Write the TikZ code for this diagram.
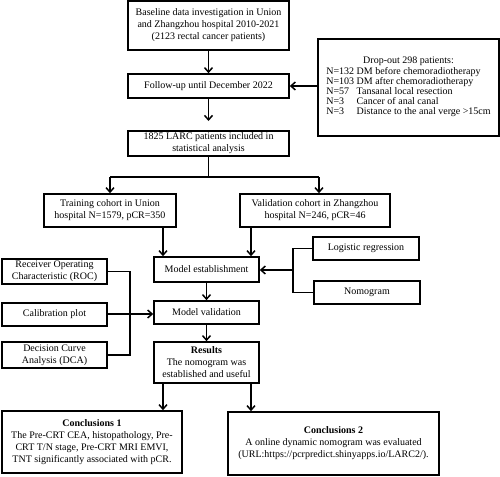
\documentclass[tikz,border=0pt]{standalone}
\usepackage{fontspec}
\setmainfont{Liberation Serif}
\usetikzlibrary{arrows.meta}
\begin{document}
\begin{tikzpicture}[x=1pt,y=-1pt,
  box/.style={draw,line width=1.6pt,inner sep=1pt,align=center,font=\fontsize{10}{12}\selectfont},
  conn/.style={line width=1.5pt},
  arr/.style={conn,-{Straight Barb[length=4.5pt,width=8pt,line width=1.5pt]}}]
\useasboundingbox (0,0) rectangle (500,476);
\node[box,minimum width=161pt,minimum height=49pt] (base) at (208.5,25.5) {Baseline data investigation in Union\\and Zhangzhou hospital 2010-2021\\(2123 rectal cancer patients)};
\node[box,minimum width=161pt,minimum height=24pt] (follow) at (208.5,86) {Follow-up until December 2022};
\node[box,minimum width=181pt,minimum height=97pt] (drop) at (408.5,87.5) {Drop-out 298 patients:\\[-1pt]
\begin{tabular}{@{}l@{\ }l@{}}
N=132 & DM before chemoradiotherapy\\[-2pt]
N=103 & DM after chemoradiotherapy\\[-2pt]
N=57 & Tansanal local resection\\[-2pt]
N=3 & Cancer of anal canal\\[-2pt]
N=3 & Distance to the anal verge >15cm
\end{tabular}};
\node[box,minimum width=161pt,minimum height=25pt] (larc) at (208.5,143.5) {1825 LARC patients included in\\statistical analysis};
\node[box,minimum width=132pt,minimum height=33pt] (train) at (110,210.5) {Training cohort in Union\\hospital N=1579, pCR=350};
\node[box,minimum width=150pt,minimum height=33pt] (valid) at (315,210.5) {Validation cohort in Zhangzhou\\hospital N=246, pCR=46};
\node[box,minimum width=105pt,minimum height=25pt] (est) at (206.5,269.5) {Model establishment};
\node[box,minimum width=106pt,minimum height=23pt] (logit) at (366,248.5) {Logistic regression};
\node[box,minimum width=106pt,minimum height=23pt] (nomo) at (367,292.5) {Nomogram};
\node[box,minimum width=105pt,minimum height=23pt] (mval) at (206.5,312.5) {Model validation};
\node[box,minimum width=105pt,minimum height=25pt] (roc) at (54.5,271.5) {Receiver Operating\\Characteristic (ROC)};
\node[box,minimum width=105pt,minimum height=23pt] (cal) at (54.5,314.5) {Calibration plot};
\node[box,minimum width=105pt,minimum height=26pt] (dca) at (54.5,355) {Decision Curve\\Analysis (DCA)};
\node[box,minimum width=105pt,minimum height=41pt] (res) at (206.5,362.5) {\textbf{Results}\\The nomogram was\\established and useful};
\node[box,minimum width=180pt,minimum height=62pt] (c1) at (92,442) {\textbf{Conclusions 1}\\The Pre-CRT CEA, histopathology, Pre-\\CRT T/N stage, Pre-CRT MRI EMVI,\\TNT significantly associated with pCR.};
\node[box,minimum width=211pt,minimum height=63pt] (c2) at (333.5,443.5) {\textbf{Conclusions 2}\\A online dynamic nomogram was evaluated\\(URL:https://pcrpredict.shinyapps.io/LARC2/).};
% connectors
\draw[arr] (base) -- (follow);
\draw[arr] (drop.west |- follow) -- (follow.east);
\coordinate (j1) at (208.5,121);
\draw[arr] (follow) -- (j1);
\coordinate (split) at (208.5,177);
\draw[conn] (larc.south) -- (split);
\draw[conn] (110,177) -- (319,177);
\draw[arr] (110,177) -- (train.north);
\draw[arr] (319,177) -- (valid.north -| 319,0);
\draw[arr] (train.south -| 163,0) -- (est.north -| 163,0);
\draw[arr] (valid.south -| 251,0) -- (est.north -| 251,0);
\coordinate (bx) at (293,270);
\draw[conn] (logit.west) -| (bx) |- (nomo.west);
\draw[arr] (bx) -- (est.east |- bx);
\draw[arr] (est) -- (mval);
\coordinate (lx) at (130,314);
\draw[conn] (roc.east) -| (lx) |- (dca.east);
\draw[arr] (cal.east |- lx) -- (mval.west |- lx);
\draw[arr] (mval) -- (res);
\draw[arr] (res.south -| 163,0) -- (c1.north -| 163,0);
\draw[arr] (res.south -| 251,0) -- (c2.north -| 251,0);
\end{tikzpicture}
\end{document}
